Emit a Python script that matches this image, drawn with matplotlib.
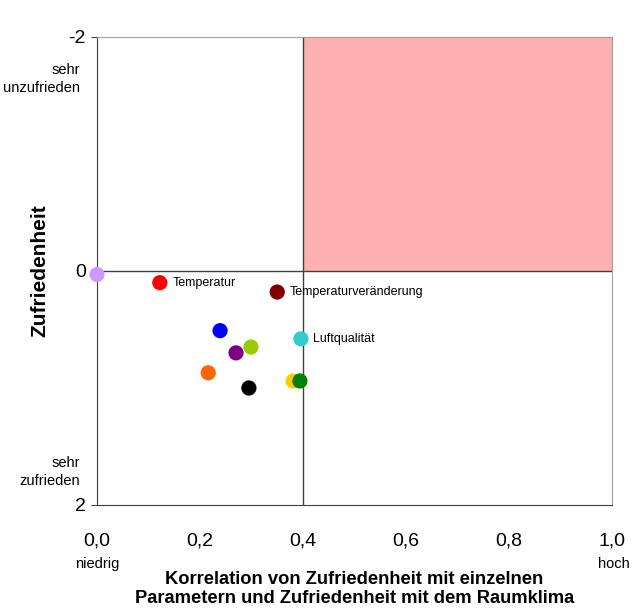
import numpy as np
import matplotlib
matplotlib.use('Agg')
import matplotlib.pyplot as plt

plt.rcParams['font.family'] = ['Liberation Sans', 'DejaVu Sans']
plt.rcParams['axes.unicode_minus'] = False

# Correlation (x) and mean satisfaction (y) per parameter
corr = [0.00, 0.122, 0.35, 0.239, 0.396, 0.299, 0.270, 0.216, 0.295, 0.381, 0.394]
satisfaction = [0.03, 0.10, 0.18, 0.51, 0.58, 0.65, 0.70, 0.87, 1.00, 0.94, 0.94]
colors = ['#CC99FF', '#FF0000', '#800000', '#0000FF', '#33CCCC', '#99CC00',
          '#800080', '#FF6600', '#000000', '#FFCC00', '#008000']
labels = ['', 'Temperatur', 'Temperaturveränderung', '', 'Luftqualität', '',
          '', '', '', '', '']

x_ticks = [0.0, 0.2, 0.4, 0.6, 0.8, 1.0]
y_ticks = [-2, 0, 2]

fig = plt.figure(figsize=(6.33, 6.13), dpi=100)
ax = fig.add_axes([0.1532, 0.1762, 0.8136, 0.7635])

# Critical quadrant (high correlation, dissatisfied)
ax.axvspan(0.4, 1.0, ymin=0.5, ymax=1.0, color='#FFB0B0', zorder=0, lw=0)
ax.axvline(0.4, color='#404040', lw=1, zorder=1)
ax.axhline(0, color='#404040', lw=1, zorder=1)

ax.scatter(corr, satisfaction, s=120, c=colors, zorder=3, clip_on=False, linewidths=0)
for x, y, lab in zip(corr, satisfaction, labels):
    if lab:
        ax.annotate(lab, (x, y), xytext=(9, 0), textcoords='offset points',
                    fontsize=9, va='center', ha='left', zorder=4)

ax.set_xlim(0, 1)
ax.set_ylim(2, -2)
ax.set_xticks(x_ticks)
ax.set_xticklabels([f'{t:.1f}'.replace('.', ',') for t in x_ticks], fontsize=14)
ax.set_yticks(y_ticks)
ax.set_yticklabels([str(t) for t in y_ticks], fontsize=14)
ax.tick_params(axis='x', length=0, pad=20)
ax.tick_params(axis='y', length=4, pad=4, color='#404040')

for side in ['top', 'right']:
    ax.spines[side].set_color('#A0A0A0')
for side in ['left', 'bottom']:
    ax.spines[side].set_color('#404040')

ax.set_ylabel('Zufriedenheit', fontsize=15, fontweight='bold', labelpad=14)
ax.set_xlabel('Korrelation von Zufriedenheit mit einzelnen\nParametern und Zufriedenheit mit dem Raumklima',
              fontsize=13.2, fontweight='bold', labelpad=15, linespacing=1.15)

fig.text(80 / 633, 1 - 79 / 613, 'sehr\nunzufrieden', fontsize=10.5, ha='right', va='center',
         linespacing=1.35)
fig.text(80 / 633, 1 - 472 / 613, 'sehr\nzufrieden', fontsize=10.5, ha='right', va='center',
         linespacing=1.35)
fig.text(97 / 633, 1 - 564 / 613, 'niedrig', fontsize=10.5, ha='center', va='center')
fig.text(614 / 633, 1 - 564 / 613, 'hoch', fontsize=10.5, ha='center', va='center')

fig.savefig('out.png', dpi=100)
